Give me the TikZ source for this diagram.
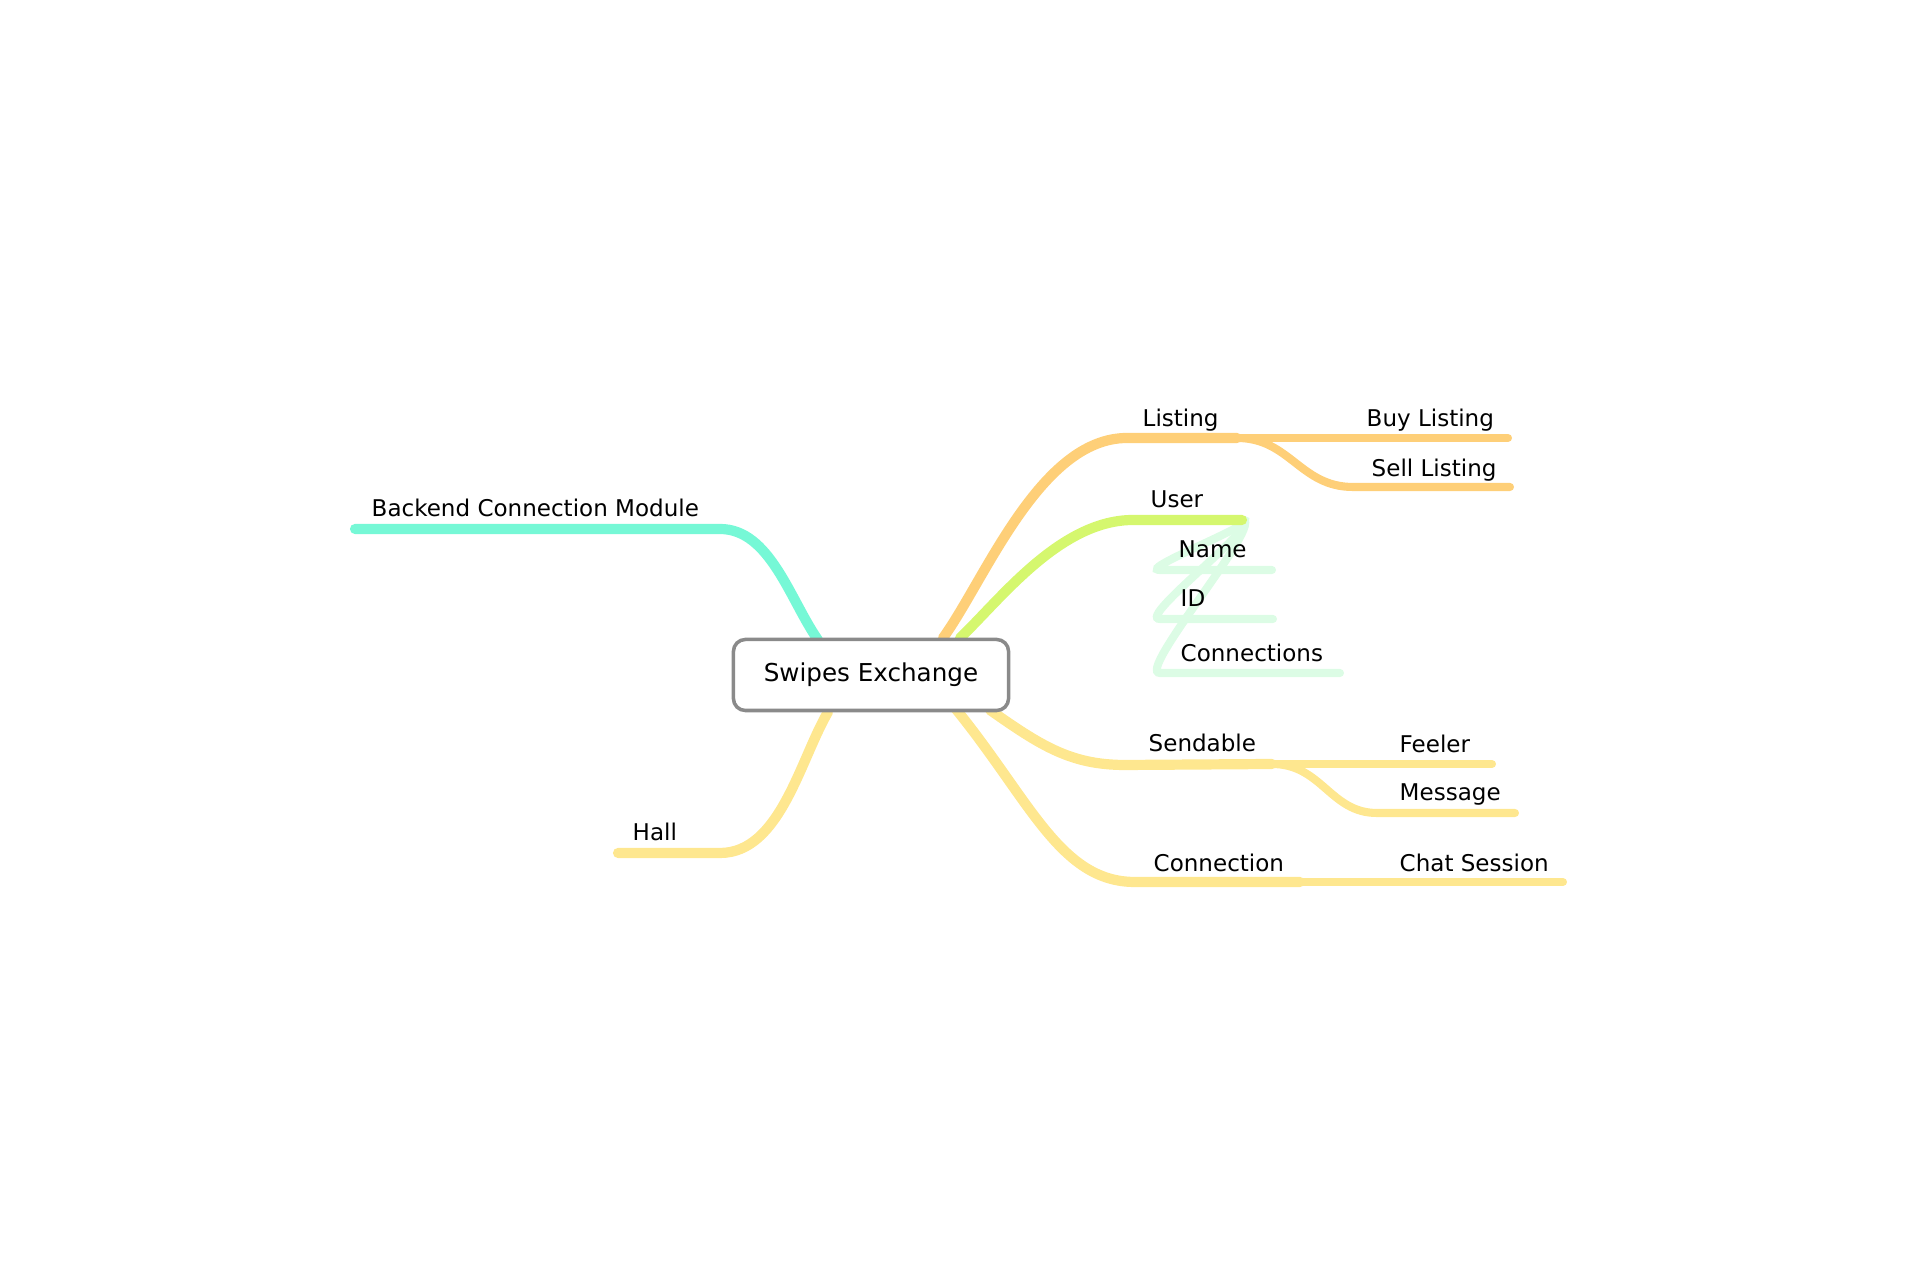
\documentclass[tikz,border=0pt]{standalone}
\usepackage{fontspec}
\setmainfont{DejaVu Sans}
\definecolor{cTeal}{HTML}{76F8D6}
\definecolor{cOrange}{HTML}{FECF78}
\definecolor{cGreen}{HTML}{D5F76E}
\definecolor{cPale}{HTML}{DCFCE5}
\definecolor{cYellow}{HTML}{FEE78F}
\definecolor{cBox}{HTML}{8A8A8A}
\tikzset{
  br/.style={line width=2.9pt, line cap=round},
  subbr/.style={line width=2.3pt, line cap=round},
  lbl/.style={anchor=base west, inner sep=0pt, font=\fontsize{6.55}{8}\selectfont},
  rootbox/.style={draw=cBox, line width=1pt, rounded corners=3.4pt, fill=white,
    minimum width=2.75cm, minimum height=0.71cm, inner sep=0pt,
    font=\fontsize{7}{8.4}\selectfont}
}
\begin{document}
\begin{tikzpicture}[x=0.01cm, y=-0.01cm]
\useasboundingbox (0,0) rectangle (1920,1280);
% attachment points at the root box
\coordinate (rB) at (818,640);
\coordinate (rH) at (828,712);
\coordinate (rL) at (943,638);
\coordinate (rU) at (960,638);
\coordinate (rS) at (990,710);
\coordinate (rC) at (955,708);
% branch ends
\coordinate (bcmEnd) at (355,529);
\coordinate (hallEnd) at (618,853);
\coordinate (listEnd) at (1237,438);
\coordinate (buyEnd) at (1508,438);
\coordinate (sellEnd) at (1510,487);
\coordinate (userEnd) at (1242,520);
\coordinate (nameEnd) at (1272,570);
\coordinate (idEnd) at (1273,619);
\coordinate (consEnd) at (1340,673);
\coordinate (sendEnd) at (1272,764);
\coordinate (feelEnd) at (1492,764);
\coordinate (msgEnd) at (1515,813);
\coordinate (connEnd) at (1300,882);
\coordinate (chatEnd) at (1563,882);

% left branches
\draw[br, cTeal] (rB) .. controls (790,600) and (770,529) .. (720,529) -- (bcmEnd);
\draw[br, cYellow] (rH) .. controls (800,760) and (780,853) .. (720,853) -- (hallEnd);

% Listing
\draw[subbr, cOrange] (listEnd) -- (buyEnd);
\draw[subbr, cOrange] (listEnd) .. controls (1290,438) and (1300,487) .. (1353,487) -- (sellEnd);
\draw[br, cOrange] (rL) .. controls (985,580) and (1040,438) .. (1127,438) -- (listEnd);

% User children
\draw[subbr, cPale] (userEnd) .. controls (1267,520) and (1135,570) .. (1160,570) -- (nameEnd);
\draw[subbr, cPale] (userEnd) .. controls (1267,520) and (1135,619) .. (1160,619) -- (idEnd);
\draw[subbr, cPale] (userEnd) .. controls (1267,520) and (1135,673) .. (1160,673) -- (consEnd);
\draw[br, cGreen] (rU) .. controls (1000,600) and (1060,520) .. (1133,520) -- (userEnd);

% Sendable
\draw[subbr, cYellow] (sendEnd) -- (feelEnd);
\draw[subbr, cYellow] (sendEnd) .. controls (1322,764) and (1330,813) .. (1377,813) -- (msgEnd);
\draw[br, cYellow] (rS) .. controls (1040,745) and (1070,765) .. (1125,765) -- (sendEnd);

% Connection
\draw[subbr, cYellow] (connEnd) -- (chatEnd);
\draw[br, cYellow] (rC) .. controls (1030,800) and (1060,882) .. (1135,882) -- (connEnd);

% root
\node[rootbox] (root) at (871,675) {Swipes Exchange};

% labels
\node[lbl] (lBcm) at (371,517) {Backend Connection Module};
\node[lbl] (lHall) at (632,841) {Hall};
\node[lbl] (lList) at (1142,427) {Listing};
\node[lbl] (lBuy) at (1366,427) {Buy Listing};
\node[lbl] (lSell) at (1371,477) {Sell Listing};
\node[lbl] (lUser) at (1150,508) {User};
\node[lbl] (lName) at (1178,558) {Name};
\node[lbl] (lId) at (1180,607) {ID};
\node[lbl] (lCons) at (1180,662) {Connections};
\node[lbl] (lSend) at (1148,752) {Sendable};
\node[lbl] (lFeel) at (1399,753) {Feeler};
\node[lbl] (lMsg) at (1399,801) {Message};
\node[lbl] (lConn) at (1153,872) {Connection};
\node[lbl] (lChat) at (1399,872) {Chat Session};
\end{tikzpicture}
\end{document}
